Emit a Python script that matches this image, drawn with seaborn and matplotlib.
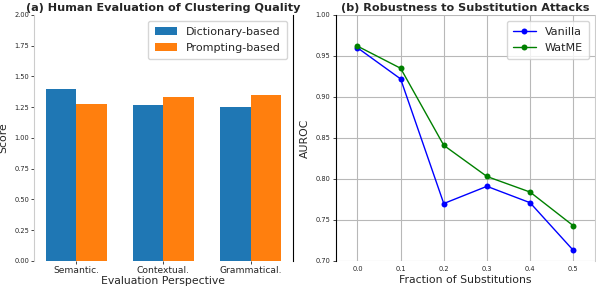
import numpy as np
import matplotlib
matplotlib.use('Agg')
import matplotlib.pyplot as plt
import pandas as pd
import seaborn as sns

# data for panel (a)
perspectives = ['Semantic.', 'Contextual.', 'Grammatical.']
dictionary_scores = [1.40, 1.27, 1.25]
prompting_scores = [1.28, 1.33, 1.35]

# data for panel (b)
fractions = [0.0, 0.1, 0.2, 0.3, 0.4, 0.5]
vanilla_auroc = [0.960, 0.922, 0.770, 0.791, 0.771, 0.713]
watme_auroc = [0.962, 0.935, 0.841, 0.803, 0.784, 0.743]

sns.set_style('white')
plt.rcParams['font.family'] = ['DejaVu Sans']

fig, (ax1, ax2) = plt.subplots(1, 2, figsize=(5.96, 2.88), dpi=100)
fig.subplots_adjust(left=0.057, right=0.998, bottom=0.094, top=0.948, wspace=0.166)

# (a) grouped bars
bars = pd.DataFrame({
    'Perspective': perspectives * 2,
    'Score': dictionary_scores + prompting_scores,
    'Method': ['Dictionary-based'] * 3 + ['Prompting-based'] * 3,
})
sns.barplot(data=bars, x='Perspective', y='Score', hue='Method',
            palette=['#1f77b4', '#ff7f0e'], width=0.7, saturation=1,
            linewidth=0, edgecolor='none', ax=ax1, errorbar=None)
ax1.set_xlim(-0.485, 2.485)
ax1.set_ylim(0, 2.0)
ax1.set_yticks(np.arange(0, 2.01, 0.25))
ax1.set_title('(a) Human Evaluation of Clustering Quality', fontsize=8.1, fontweight='bold', pad=3)
ax1.set_xlabel('Evaluation Perspective', fontsize=7.8, labelpad=1)
ax1.set_ylabel('Score', fontsize=7.8)
ax1.tick_params(axis='x', labelsize=6.6, length=2, width=0.6, pad=1.5, bottom=True)
ax1.tick_params(axis='y', labelsize=4.8, length=2, width=0.6, pad=1.5, left=True)
ax1.spines['top'].set_visible(False)
ax1.spines['bottom'].set_visible(False)
ax1.spines['left'].set_color('#cccccc')
ax1.spines['right'].set_color('black')
ax1.legend(title=None, fontsize=8, loc='upper right', handlelength=2.0, borderpad=0.6)

# (b) robustness lines
lines = pd.DataFrame({
    'Fraction': fractions * 2,
    'AUROC': vanilla_auroc + watme_auroc,
    'Method': ['Vanilla'] * 6 + ['WatME'] * 6,
})
sns.lineplot(data=lines, x='Fraction', y='AUROC', hue='Method',
             palette=['blue', 'green'], marker='o', markersize=4.3,
             markeredgewidth=0, linewidth=1, ax=ax2)
ax2.set_xlim(-0.05, 0.55)
ax2.set_ylim(0.70, 1.00)
ax2.set_xticks(fractions)
ax2.set_yticks([0.70, 0.75, 0.80, 0.85, 0.90, 0.95, 1.00])
ax2.grid(True, color='#b8b8b8', linewidth=0.8)
ax2.set_title('(b) Robustness to Substitution Attacks', fontsize=8.1, fontweight='bold', pad=3)
ax2.set_xlabel('Fraction of Substitutions', fontsize=7.8, labelpad=2)
ax2.set_ylabel('AUROC', fontsize=7.8)
ax2.tick_params(axis='both', labelsize=4.8, length=2, width=0.6, pad=2, left=True)
ax2.spines['top'].set_visible(False)
ax2.spines['bottom'].set_visible(False)
ax2.spines['left'].set_color('black')
ax2.spines['right'].set_color('#cccccc')
ax2.legend(title=None, fontsize=8, loc='upper right', handlelength=2.0, borderpad=0.6)

fig.savefig('out.png', dpi=100)
